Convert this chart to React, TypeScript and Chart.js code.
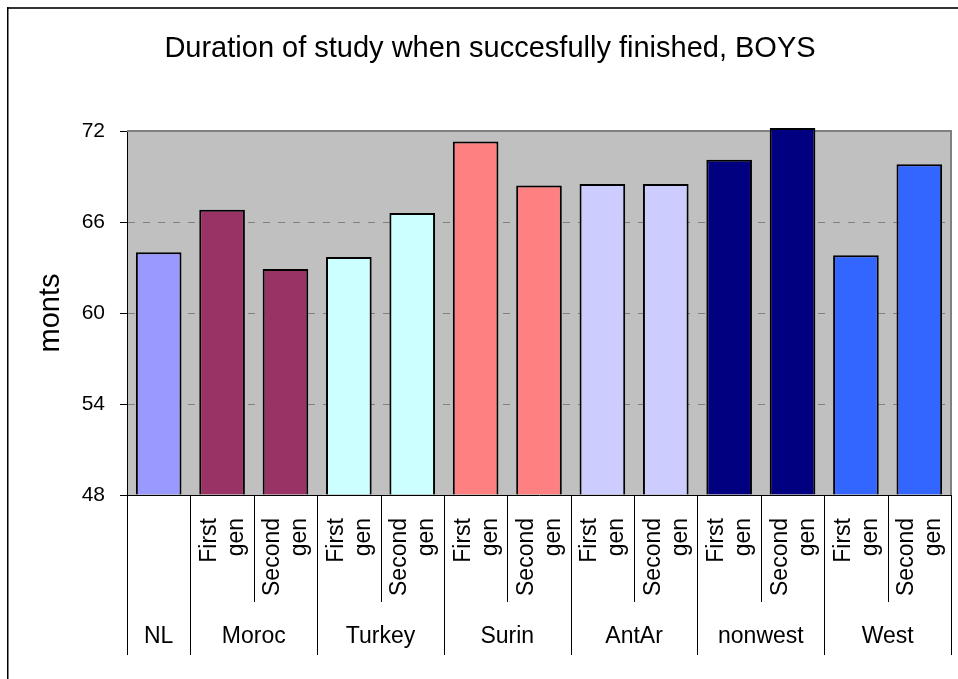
import React, { useEffect, useRef } from 'react';
import { Chart, registerables } from 'chart.js';

Chart.register(...registerables);

const chartTitle = 'Duration of study when succesfully finished, BOYS';
const yAxisTitle = 'monts';
const groups = ['NL', 'Moroc', 'Turkey', 'Surin', 'AntAr', 'nonwest', 'West'];
const groupColors = ['#9999FF', '#993366', '#CCFFFF', '#FF8080', '#CCCCFF', '#000080', '#3366FF'];
const barGroup = [0, 1, 1, 2, 2, 3, 3, 4, 4, 5, 5, 6, 6];
const subLabels = [
  '',
  'First gen', 'Second gen',
  'First gen', 'Second gen',
  'First gen', 'Second gen',
  'First gen', 'Second gen',
  'First gen', 'Second gen',
  'First gen', 'Second gen',
];
const values = [64.0, 66.8, 62.9, 63.7, 66.6, 71.3, 68.4, 68.5, 68.5, 70.1, 72.2, 63.8, 69.8];
const yMin = 48;
const yMax = 72;
const yStep = 6;

const FONT = '"Liberation Sans", Arial, Helvetica, sans-serif';

const categories = barGroup.map((g, i) => (subLabels[i] ? `${groups[g]} ${subLabels[i]}` : groups[g]));

const decor = {
  id: 'decor',
  beforeDraw(chart: any) {
    const { ctx, chartArea: a } = chart;
    ctx.save();
    ctx.fillStyle = '#ffffff';
    ctx.fillRect(0, 0, chart.width, chart.height);
    ctx.fillStyle = '#C0C0C0';
    ctx.fillRect(a.left, a.top, a.right - a.left, a.bottom - a.top);
    ctx.restore();
  },
  beforeDatasetsDraw(chart: any) {
    const { ctx, chartArea: a } = chart;
    const y = chart.scales.y;
    ctx.save();
    ctx.strokeStyle = '#808080';
    ctx.lineWidth = 1;
    ctx.setLineDash([7, 8]);
    y.ticks.forEach((t: any) => {
      if (t.value > y.min && t.value < y.max) {
        const py = Math.round(y.getPixelForValue(t.value)) + 0.5;
        ctx.beginPath();
        ctx.moveTo(a.left + 1, py);
        ctx.lineTo(a.right, py);
        ctx.stroke();
      }
    });
    ctx.setLineDash([]);
    ctx.lineWidth = 2;
    ctx.beginPath();
    ctx.moveTo(a.left, a.top);
    ctx.lineTo(a.right, a.top);
    ctx.lineTo(a.right, a.bottom);
    ctx.stroke();
    ctx.restore();
  },
  afterDraw(chart: any) {
    const { ctx, chartArea: a } = chart;
    const x = chart.scales.x;
    const n = values.length;
    ctx.save();

    // separators under the axis
    ctx.strokeStyle = '#000000';
    ctx.lineWidth = 1;
    const bx: number[] = [];
    for (let b = 0; b <= n; b++) {
      let px: number;
      if (b === 0) px = a.left;
      else if (b === n) px = a.right;
      else px = (x.getPixelForValue(b - 1) + x.getPixelForValue(b)) / 2;
      bx.push(px);
      const major = b === 0 || b === n || barGroup[b - 1] !== barGroup[b];
      const xx = Math.round(px) + 0.5;
      ctx.beginPath();
      ctx.moveTo(xx, a.bottom);
      ctx.lineTo(xx, major ? 655 : 602);
      ctx.stroke();
    }

    // sub labels (rotated, wrapped)
    ctx.fillStyle = '#000000';
    ctx.font = `23px ${FONT}`;
    ctx.textAlign = 'right';
    ctx.textBaseline = 'alphabetic';
    subLabels.forEach((lbl, i) => {
      if (!lbl) return;
      const cx = x.getPixelForValue(i);
      const lines = lbl.split(' ');
      const offs = [-6, 21];
      ctx.save();
      ctx.translate(cx, 518);
      ctx.rotate(-Math.PI / 2);
      lines.forEach((ln, k) => ctx.fillText(ln, 0, offs[k]));
      ctx.restore();
    });

    // group labels
    ctx.textAlign = 'center';
    ctx.textBaseline = 'middle';
    ctx.font = `23px ${FONT}`;
    groups.forEach((g, gi) => {
      const idx = barGroup.map((v, i) => (v === gi ? i : -1)).filter((i) => i >= 0);
      const left = bx[idx[0]];
      const right = bx[idx[idx.length - 1] + 1];
      ctx.fillText(g, (left + right) / 2, 637);
    });

    // y axis title
    ctx.save();
    ctx.font = `29px ${FONT}`;
    ctx.translate(51, (a.top + a.bottom) / 2);
    ctx.rotate(-Math.PI / 2);
    ctx.textAlign = 'center';
    ctx.textBaseline = 'middle';
    ctx.fillText(yAxisTitle, 0, 0);
    ctx.restore();

    // chart title
    ctx.font = `29px ${FONT}`;
    ctx.textAlign = 'center';
    ctx.textBaseline = 'alphabetic';
    ctx.fillText(chartTitle, 490, 57);

    // outer frame
    ctx.fillStyle = '#333333';
    ctx.fillRect(7, 7, chart.width - 7, 2);
    ctx.fillStyle = '#000000';
    ctx.fillRect(7, 7, 1.5, chart.height - 7);

    ctx.restore();
  },
};

export default function App() {
  const ref = useRef<HTMLCanvasElement | null>(null);
  useEffect(() => {
    if (!ref.current) return;
    const chart = new Chart(ref.current, {
      type: 'bar',
      data: {
        labels: categories,
        datasets: [
          {
            data: values,
            base: yMin,
            backgroundColor: barGroup.map((g) => groupColors[g]),
            borderColor: '#000000',
            borderWidth: 2,
            barPercentage: 0.72,
            categoryPercentage: 1,
            clip: { left: 0, right: 0, bottom: 0, top: false } as any,
          } as any,
        ],
      },
      options: {
        responsive: false,
        animation: false,
        devicePixelRatio: 1,
        layout: { padding: { left: 0, right: 7, top: 131, bottom: 0 } },
        plugins: {
          legend: { display: false },
          title: { display: false },
          tooltip: { enabled: false },
        },
        scales: {
          x: {
            type: 'category',
            offset: true,
            grid: { display: false },
            ticks: { display: false },
            border: { display: true, color: '#000000', width: 1 },
            afterFit: (s: any) => {
              s.height = 679 - 495;
            },
          },
          y: {
            min: yMin,
            max: yMax,
            beginAtZero: false,
            ticks: {
              stepSize: yStep,
              color: '#000000',
              padding: 15,
              font: { family: FONT, size: 21 },
            },
            grid: { drawOnChartArea: false, drawTicks: true, tickLength: 7, color: '#000000' },
            border: { display: true, color: '#000000', width: 1 },
            afterFit: (s: any) => {
              s.width = 127;
            },
          },
        },
      },
      plugins: [decor],
    });
    return () => chart.destroy();
  }, []);
  return (
    <div style={{ position: 'absolute', left: 0, top: 0, width: 958, height: 679 }}>
      <canvas ref={ref} width={958} height={679} style={{ display: 'block' }} />
    </div>
  );
}
